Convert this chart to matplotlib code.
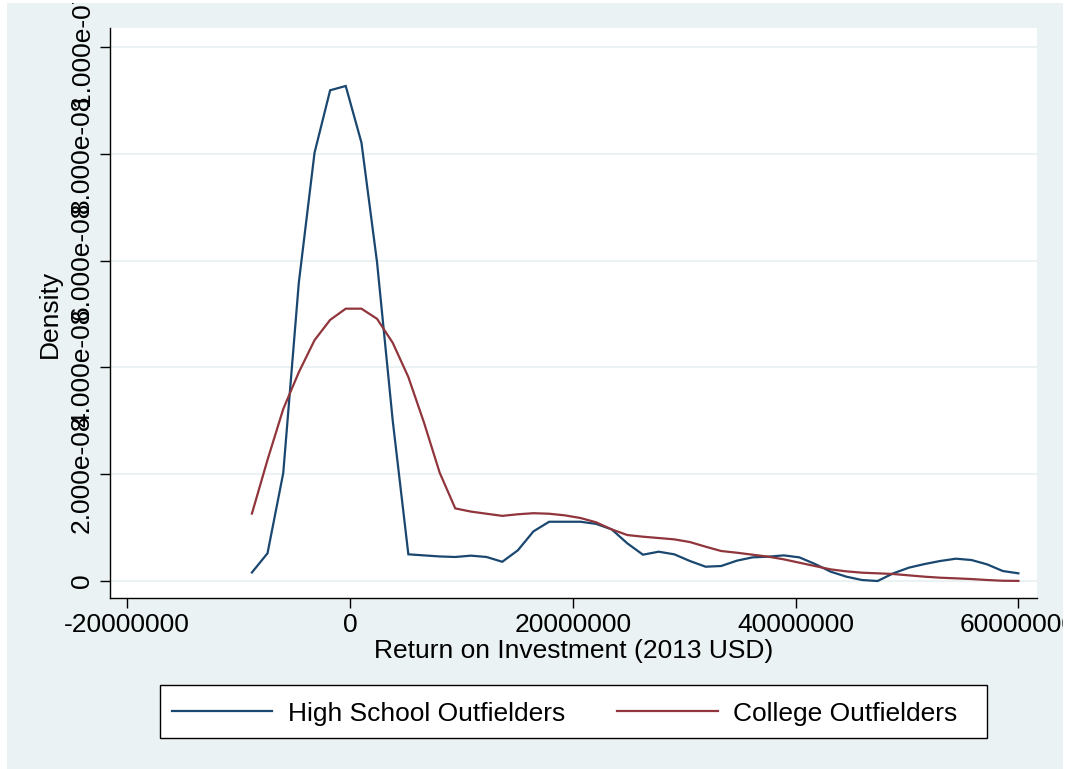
import matplotlib
matplotlib.use("Agg")
import matplotlib.pyplot as plt
from matplotlib.patches import Rectangle

plt.rcParams['font.family'] = ['Liberation Sans', 'DejaVu Sans']

# kdensity evaluation grid (USD, 2013)
x_grid = [-8.80e6, -7.40e6, -5.99e6, -4.59e6, -3.18e6, -1.78e6, -0.38e6, 1.03e6, 2.43e6, 3.84e6,
          5.24e6, 6.64e6, 8.05e6, 9.45e6, 10.86e6, 12.26e6, 13.67e6, 15.07e6, 16.47e6, 17.88e6,
          19.28e6, 20.69e6, 22.09e6, 23.49e6, 24.90e6, 26.30e6, 27.71e6, 29.11e6, 30.51e6, 31.92e6,
          33.32e6, 34.73e6, 36.13e6, 37.54e6, 38.94e6, 40.34e6, 41.75e6, 43.15e6, 44.56e6, 45.96e6,
          47.36e6, 48.77e6, 50.17e6, 51.58e6, 52.98e6, 54.39e6, 55.79e6, 57.19e6, 58.60e6, 60.00e6]

# densities in units of 1e-8
high_school = [0.16, 0.52, 2.02, 5.59, 8.02, 9.19, 9.27, 8.21, 5.97, 3.00,
               0.50, 0.48, 0.46, 0.45, 0.475, 0.45, 0.36, 0.575, 0.93, 1.11,
               1.11, 1.11, 1.07, 0.967, 0.705, 0.493, 0.549, 0.50, 0.375, 0.268,
               0.281, 0.381, 0.443, 0.456, 0.48, 0.443, 0.318, 0.175, 0.081, 0.019,
               0.0, 0.144, 0.25, 0.318, 0.375, 0.418, 0.393, 0.312, 0.187, 0.144]
college = [1.263, 2.27, 3.22, 3.91, 4.51, 4.89, 5.10, 5.10, 4.91, 4.46,
           3.82, 2.97, 2.03, 1.36, 1.30, 1.26, 1.22, 1.25, 1.27, 1.26,
           1.23, 1.18, 1.10, 0.967, 0.861, 0.83, 0.805, 0.78, 0.73, 0.643,
           0.562, 0.53, 0.493, 0.456, 0.406, 0.343, 0.28, 0.218, 0.181, 0.156,
           0.144, 0.131, 0.106, 0.081, 0.062, 0.05, 0.037, 0.019, 0.005, 0.002]

y_ticks = [0, 2e-8, 4e-8, 6e-8, 8e-8, 1e-7]
y_ticklabels = ['0', '2.000e-08', '4.000e-08', '6.000e-08', '8.000e-08', '1.000e-07']
x_ticks = [-2e7, 0, 2e7, 4e7, 6e7]
x_ticklabels = ['-20000000', '0', '20000000', '40000000', '60000000']
series_labels = ['High School Outfielders', 'College Outfielders']

BG = '#eaf2f3'
BLUE = '#1a476f'
RED = '#90353b'
W, H = 1071, 769

fig = plt.figure(figsize=(W / 100, H / 100), dpi=100)
fig.patch.set_facecolor('white')
# graph region background
fig.patches.append(Rectangle((7 / W, 0), (1063 - 7) / W, (769 - 3) / H,
                             transform=fig.transFigure, facecolor=BG,
                             edgecolor='none', zorder=-10))

ax = fig.add_axes([110 / W, 1 - 598 / H, (1037 - 110) / W, (598 - 28) / H])
ax.set_facecolor('white')

hs = [v * 1e-8 for v in high_school]
co = [v * 1e-8 for v in college]
l1, = ax.plot(x_grid, hs, color=BLUE, lw=1.6, solid_joinstyle='miter', zorder=3)
l2, = ax.plot(x_grid, co, color=RED, lw=1.6, solid_joinstyle='miter', zorder=3)

ax.set_xlim(-2.154e7, 6.167e7)
ax.set_ylim(-0.318e-8, 10.356e-8)

ax.set_yticks(y_ticks)
ax.set_yticklabels(y_ticklabels, rotation=90, va='center')
ax.set_xticks(x_ticks)
ax.set_xticklabels(x_ticklabels)
ax.tick_params(axis='both', direction='out', length=7.5, width=1.0,
               color='black', labelsize=19, labelcolor='black')
ax.tick_params(axis='y', pad=4.0)
ax.tick_params(axis='x', pad=3.5)

ax.grid(axis='y', color=BG, lw=1.4, zorder=0)
ax.set_axisbelow(True)

for s in ['top', 'right']:
    ax.spines[s].set_visible(False)
for s in ['left', 'bottom']:
    ax.spines[s].set_color('black')
    ax.spines[s].set_linewidth(1.0)

ax.set_xlabel('Return on Investment (2013 USD)', fontsize=19, labelpad=1)
fig.text(62 / W, 1 - 314 / H, 'Density', rotation=90, ha='right', va='center',
         fontsize=19)

# legend box (drawn separately so its size matches the reference)
fig.patches.append(Rectangle((160 / W, 1 - 738 / H), (987 - 160) / W, 53 / H,
                             transform=fig.transFigure, facecolor='white',
                             edgecolor='black', linewidth=1.0, zorder=5))
leg = fig.legend([l1, l2], series_labels, loc='center left',
                 bbox_to_anchor=(160 / W, 1 - 713.5 / H),
                 ncol=2, fontsize=19, frameon=False,
                 handlelength=3.8, handletextpad=0.6, borderpad=0.45,
                 borderaxespad=0, columnspacing=1.97)
leg.set_zorder(6)

# white outer margins (text overflowing the graph region is hidden)
for (x0, y0, w, h) in [(0, 0, 7, H), (1063, 0, W - 1063, H), (0, 0, W, 3)]:
    fig.patches.append(Rectangle((x0 / W, 1 - (y0 + h) / H), w / W, h / H,
                                 transform=fig.transFigure, facecolor='white',
                                 edgecolor='none', zorder=20))

fig.savefig('out.png', dpi=100, facecolor=fig.get_facecolor())
